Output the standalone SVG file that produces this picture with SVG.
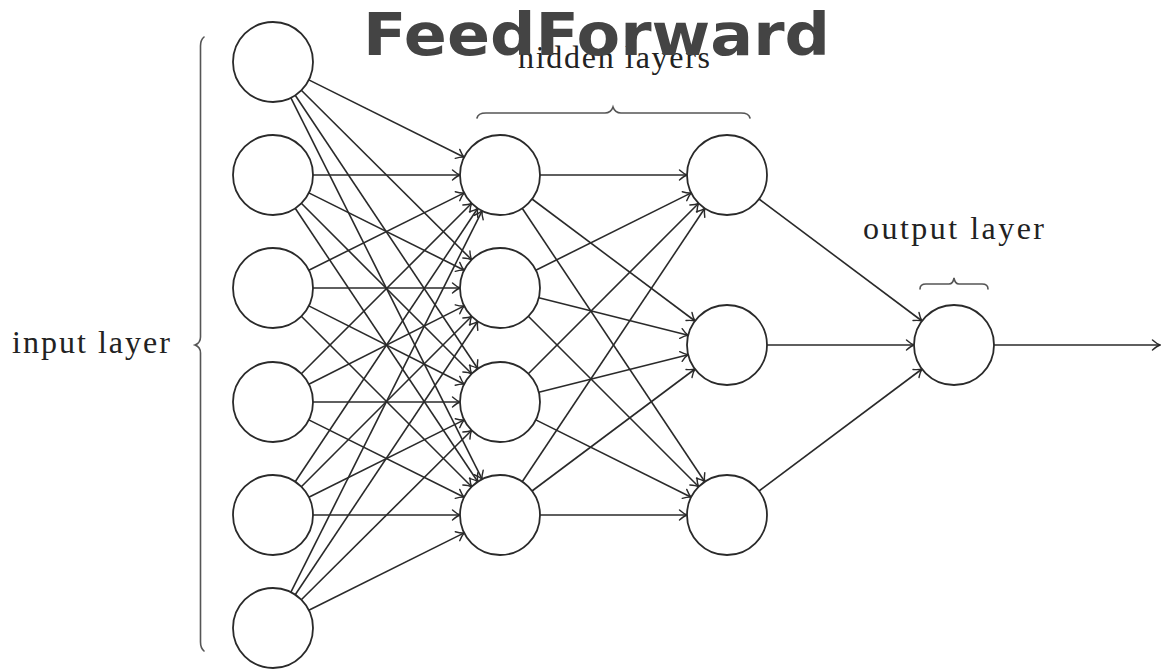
<svg xmlns="http://www.w3.org/2000/svg" width="1161" height="669" viewBox="0 0 1161 669">
<style>
.node{fill:#fff;stroke:#2a2a2a;stroke-width:1.8}
.edge{stroke:#2a2a2a;stroke-width:1.6;fill:none;marker-end:url(#arr)}
.brace{fill:none;stroke:#555;stroke-width:1.6;stroke-linecap:round}
.lbl{font-family:"Liberation Serif","Times New Roman",serif;font-size:32px;fill:#222}
.title{font-family:"DejaVu Sans","Open Sans",sans-serif;font-weight:bold;font-size:58px;fill:#444}
</style>
<defs>
<marker id="arr" markerUnits="userSpaceOnUse" viewBox="-10 -7 12 14" markerWidth="12" markerHeight="14" refX="0" refY="0" orient="auto" overflow="visible">
<path d="M-7.5,-5 Q-3,-1 0,0 Q-3,1 -7.5,5" fill="none" stroke="#2a2a2a" stroke-width="1.4" stroke-linecap="round"/>
</marker>
</defs>
<rect width="1161" height="669" fill="#fff"/>
<g id="connectors">
<line class="edge" x1="308.8" y1="79.9" x2="464.2" y2="157.2"/>
<line class="edge" x1="301.3" y1="90.3" x2="471.7" y2="259.8"/>
<line class="edge" x1="295.2" y1="95.3" x2="477.8" y2="368.8"/>
<line class="edge" x1="290.9" y1="97.8" x2="482.1" y2="479.2"/>
<line class="edge" x1="313" y1="175" x2="460" y2="175"/>
<line class="edge" x1="308.8" y1="192.9" x2="464.2" y2="270.2"/>
<line class="edge" x1="301.3" y1="203.3" x2="471.7" y2="373.8"/>
<line class="edge" x1="295.2" y1="208.3" x2="477.8" y2="481.8"/>
<line class="edge" x1="308.8" y1="270.2" x2="464.2" y2="192.9"/>
<line class="edge" x1="313" y1="288" x2="460" y2="288"/>
<line class="edge" x1="308.8" y1="305.9" x2="464.2" y2="384.2"/>
<line class="edge" x1="301.3" y1="316.3" x2="471.7" y2="486.8"/>
<line class="edge" x1="301.3" y1="373.8" x2="471.7" y2="203.3"/>
<line class="edge" x1="308.8" y1="384.2" x2="464.2" y2="305.9"/>
<line class="edge" x1="313" y1="402" x2="460" y2="402"/>
<line class="edge" x1="308.8" y1="419.9" x2="464.2" y2="497.2"/>
<line class="edge" x1="295.2" y1="481.8" x2="477.8" y2="208.3"/>
<line class="edge" x1="301.3" y1="486.8" x2="471.7" y2="316.3"/>
<line class="edge" x1="308.8" y1="497.2" x2="464.2" y2="419.9"/>
<line class="edge" x1="313" y1="515" x2="460" y2="515"/>
<line class="edge" x1="290.9" y1="592.2" x2="482.1" y2="210.8"/>
<line class="edge" x1="295.2" y1="594.8" x2="477.8" y2="321.3"/>
<line class="edge" x1="301.3" y1="599.8" x2="471.7" y2="430.3"/>
<line class="edge" x1="308.8" y1="610.2" x2="464.2" y2="532.9"/>
<line class="edge" x1="540" y1="175" x2="687" y2="175"/>
<line class="edge" x1="532" y1="199" x2="695" y2="321"/>
<line class="edge" x1="522.2" y1="208.3" x2="704.8" y2="481.7"/>
<line class="edge" x1="535.8" y1="270.2" x2="691.2" y2="192.9"/>
<line class="edge" x1="538.8" y1="297.7" x2="688.2" y2="335.3"/>
<line class="edge" x1="528.3" y1="316.3" x2="698.7" y2="486.7"/>
<line class="edge" x1="528.3" y1="373.7" x2="698.7" y2="203.3"/>
<line class="edge" x1="538.8" y1="392.3" x2="688.2" y2="354.7"/>
<line class="edge" x1="535.8" y1="419.9" x2="691.2" y2="497.2"/>
<line class="edge" x1="522.2" y1="481.7" x2="704.8" y2="208.3"/>
<line class="edge" x1="532" y1="491" x2="695" y2="369"/>
<line class="edge" x1="540" y1="515" x2="687" y2="515"/>
<line class="edge" x1="759" y1="199" x2="922" y2="321"/>
<line class="edge" x1="767" y1="345" x2="914" y2="345"/>
<line class="edge" x1="759" y1="491" x2="922" y2="369"/>
<line class="edge" x1="994" y1="345" x2="1160" y2="345"/>
</g>
<g id="in1"><circle class="node" cx="273" cy="62" r="40"/></g>
<g id="in2"><circle class="node" cx="273" cy="175" r="40"/></g>
<g id="in3"><circle class="node" cx="273" cy="288" r="40"/></g>
<g id="in4"><circle class="node" cx="273" cy="402" r="40"/></g>
<g id="in5"><circle class="node" cx="273" cy="515" r="40"/></g>
<g id="in6"><circle class="node" cx="273" cy="628" r="40"/></g>
<g id="h1a"><circle class="node" cx="500" cy="175" r="40"/></g>
<g id="h1b"><circle class="node" cx="500" cy="288" r="40"/></g>
<g id="h1c"><circle class="node" cx="500" cy="402" r="40"/></g>
<g id="h1d"><circle class="node" cx="500" cy="515" r="40"/></g>
<g id="h2a"><circle class="node" cx="727" cy="175" r="40"/></g>
<g id="h2b"><circle class="node" cx="727" cy="345" r="40"/></g>
<g id="h2c"><circle class="node" cx="727" cy="515" r="40"/></g>
<g id="out"><circle class="node" cx="954" cy="345" r="40"/></g>
<g id="input-label">
<path class="brace" d="M204,37 Q200.5,40 200.5,46 L200.5,337 Q200.5,343 195,345 Q200.5,347 200.5,353 L200.5,642 Q200.5,648 204,651"/>
<text class="lbl" x="12" y="353" textLength="158" lengthAdjust="spacing">input layer</text>
</g>
<g id="hidden-label">
<path class="brace" d="M477,118 Q478,113 486,113 L605,113 Q611,113 613,107 Q615,113 621,113 L741,113 Q749,113 750,118"/>
<text class="lbl" x="518" y="68" textLength="192" lengthAdjust="spacing">hidden layers</text>
</g>
<g id="output-label">
<path class="brace" d="M920,289 Q920,284 926,284 L949,284 Q953,284 954,278 Q955,284 959,284 L982,284 Q988,284 988,289"/>
<text class="lbl" x="863" y="239" textLength="181" lengthAdjust="spacing">output layer</text>
</g>
<g id="title">
<text class="title" x="363" y="55" textLength="467" lengthAdjust="spacingAndGlyphs">FeedForward</text>
</g>
</svg>
